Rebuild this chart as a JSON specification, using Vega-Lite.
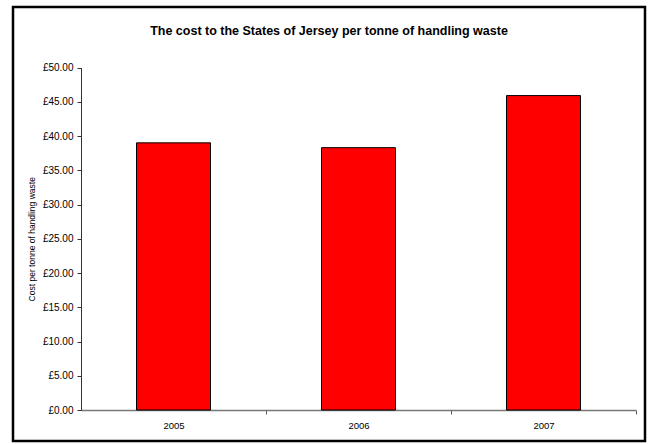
{
  "$schema": "https://vega.github.io/schema/vega-lite/v6.json",
  "autosize": {"type": "none"},
  "padding": {"left": 13, "top": 7, "right": 3, "bottom": 3},
  "width": 632,
  "height": 434,
  "background": "white",
  "title": {
    "text": "The cost to the States of Jersey per tonne of handling waste",
    "font": "Liberation Sans",
    "fontSize": 12.5,
    "fontWeight": "bold",
    "color": "#000000",
    "anchor": "middle",
    "baseline": "middle",
    "offset": -36
  },
  "data": {
    "values": [
      {"year": "2005", "cost": 39.0},
      {"year": "2006", "cost": 38.3},
      {"year": "2007", "cost": 45.9}
    ]
  },
  "mark": {"type": "bar", "color": "#FF0000", "stroke": "#000000", "strokeWidth": 1},
  "encoding": {
    "x": {
      "field": "year",
      "type": "nominal",
      "sort": null,
      "scale": {"range": [68, 623], "paddingInner": 0.6, "paddingOuter": 0.3},
      "axis": {
        "title": null,
        "offset": -31,
        "labelAngle": 0,
        "tickOffset": 92.5,
        "labelOffset": -92.5,
        "tickSize": 4,
        "tickColor": "#555555",
        "domainColor": "#777777",
        "domainWidth": 1.5,
        "labelFont": "Liberation Sans",
        "labelFontSize": 9.5,
        "labelColor": "#000000",
        "labelPadding": 6
      }
    },
    "y": {
      "field": "cost",
      "type": "quantitative",
      "scale": {"domain": [0, 50], "range": [403, 60.5], "nice": false},
      "axis": {
        "title": "Cost per tonne of handling waste",
        "titleFont": "Liberation Sans",
        "titleFontSize": 8.5,
        "titleFontWeight": "normal",
        "titleColor": "#000000",
        "titlePadding": 6,
        "offset": -68,
        "values": [0, 5, 10, 15, 20, 25, 30, 35, 40, 45, 50],
        "labelExpr": "'£' + format(datum.value, '.2f')",
        "grid": false,
        "tickSize": 4,
        "tickColor": "#333333",
        "domainColor": "#333333",
        "labelFont": "Liberation Sans",
        "labelFontSize": 10,
        "labelColor": "#000000",
        "labelPadding": 4
      }
    }
  },
  "config": {
    "view": {"stroke": "#000000", "strokeWidth": 2.5}
  }
}
